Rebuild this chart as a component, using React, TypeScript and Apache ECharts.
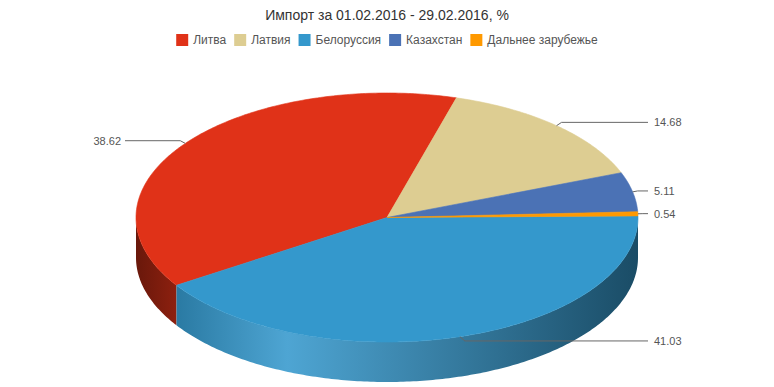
import React, { useEffect, useRef } from "react";
import * as echarts from "echarts";

// ---- data ----
const title = "Импорт за 01.02.2016 - 29.02.2016, %";
const categories = ["Литва", "Латвия", "Белоруссия", "Казахстан", "Дальнее зарубежье"];
const values = [38.62, 14.68, 41.03, 5.11, 0.54];
// order in which slices follow each other clockwise, starting at startAngle
const drawOrder = [0, 1, 3, 4, 2];
const startAngle = 147;

// ---- style ----
const colors = ["#E03218", "#DDCD92", "#3498CC", "#4B72B5", "#FF9900"];
const wallShades: Record<string, [number, number][]> = {
  "Литва": [[0, 0.47], [1, 0.63]],
  "Белоруссия": [[0, 0.8], [0.24, 1.13], [1, 0.5]],
};
const FONT = "'Liberation Sans', Arial, Helvetica, sans-serif";
const CX = 387;
const CY = 217.5;
const RX = 251;
const RY = 124.5;
const DEPTH = 40;
const LABEL_R = 129;
const LABEL_GAP = 10;

function shade(hex: string, f: number): string {
  const n = parseInt(hex.slice(1), 16);
  let r = (n >> 16) & 255, g = (n >> 8) & 255, b = n & 255;
  if (f <= 1) {
    r *= f; g *= f; b *= f;
  } else {
    const t = f - 1;
    r += (255 - r) * t; g += (255 - g) * t; b += (255 - b) * t;
  }
  const c = (v: number) => Math.round(Math.max(0, Math.min(255, v))).toString(16).padStart(2, "0");
  return "#" + c(r) + c(g) + c(b);
}

function pt(deg: number, dy = 0): [number, number] {
  const t = (deg * Math.PI) / 180;
  return [CX + RX * Math.cos(t), CY + RY * Math.sin(t) + dy];
}

function arc(a: number, b: number, dy: number): [number, number][] {
  const n = Math.max(2, Math.ceil(Math.abs(b - a) / 0.75));
  const out: [number, number][] = [];
  for (let i = 0; i <= n; i++) out.push(pt(a + ((b - a) * i) / n, dy));
  return out;
}

function sliceAngles(): { a: number; b: number }[] {
  const total = values.reduce((s, v) => s + v, 0);
  const res: { a: number; b: number }[] = [];
  let cur = startAngle;
  for (const idx of drawOrder) {
    const span = (values[idx] / total) * 360;
    res[idx] = { a: cur, b: cur + span };
    cur += span;
  }
  return res;
}

function buildSlice(ci: number) {
  const angles = sliceAngles();
  const { a, b } = angles[ci];
  const color = colors[ci];
  const children: any[] = [];

  // visible outer wall (front half: 0..180 deg, screen coords)
  for (const k of [0, 360]) {
    const s = Math.max(a, k);
    const e = Math.min(b, k + 180);
    if (e > s) {
      const pts = [...arc(s, e, 0), ...arc(e, s, DEPTH)];
      const stops = (wallShades[categories[ci]] || [[0, 0.6], [1, 0.6]]).map(([o, f]) => ({
        offset: o,
        color: shade(color, f),
      }));
      children.push({
        type: "polygon",
        shape: { points: pts },
        style: { fill: new echarts.graphic.LinearGradient(0, 0, 1, 0, stops), lineWidth: 0 },
      });
    }
  }

  // top face
  children.push({
    type: "polygon",
    shape: { points: [[CX, CY], ...arc(a, b, 0)] },
    style: { fill: color, stroke: color, lineWidth: 0.6 },
  });

  // label + connector
  const m = (a + b) / 2;
  const t = (m * Math.PI) / 180;
  const right = Math.cos(t) >= 0;
  const [ax, ay] = pt(m);
  const ly = CY + LABEL_R * Math.sin(t);
  const endX = right ? CX + RX + LABEL_GAP : CX - RX - LABEL_GAP - 1;
  children.push({
    type: "polyline",
    shape: { points: [[ax, ay], [ax + (right ? 5 : -5), ly], [endX, ly]] },
    style: { stroke: "#666666", lineWidth: 1, fill: null },
  });
  children.push({
    type: "text",
    style: {
      x: right ? endX + 6 : endX - 4,
      y: ly,
      text: values[ci].toFixed(2),
      fill: "#555555",
      fontSize: 11,
      fontFamily: FONT,
      align: right ? "left" : "right",
      verticalAlign: "middle",
    },
  });

  return { type: "group", children };
}

export default function App() {
  const ref = useRef<HTMLDivElement>(null);
  useEffect(() => {
    if (!ref.current) return;
    const chart = echarts.init(ref.current, undefined, { renderer: "svg" });
    chart.setOption({
      animation: false,
      backgroundColor: "#ffffff",
      title: {
        text: title,
        left: "center",
        top: 3,
        textStyle: { fontFamily: FONT, fontSize: 14, fontWeight: "normal", color: "#333333" },
      },
      legend: {
        top: 29,
        left: "center",
        icon: "rect",
        itemWidth: 12,
        itemHeight: 12,
        itemGap: 8,
        selectedMode: false,
        data: categories,
        textStyle: { fontFamily: FONT, fontSize: 12, color: "#555555" },
      },
      series: categories.map((name, ci) => ({
        type: "custom",
        name,
        coordinateSystem: "none",
        silent: true,
        itemStyle: { color: colors[ci] },
        data: [[values[ci]]],
        renderItem: () => buildSlice(ci),
      })),
    });
    return () => chart.dispose();
  }, []);
  return (
    <div
      ref={ref}
      style={{ position: "absolute", left: 0, top: 0, width: 774, height: 387 }}
    />
  );
}
